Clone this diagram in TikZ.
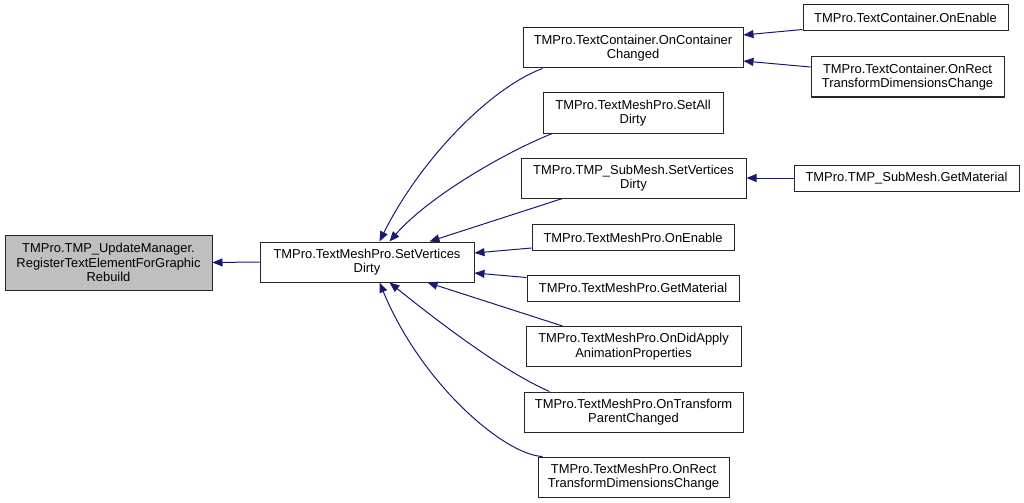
\documentclass[tikz,border=0pt]{standalone}
\usepackage{fontspec}
\setmainfont{Liberation Sans}
\usetikzlibrary{arrows.meta,calc}
\definecolor{edgeblue}{HTML}{191970}
\definecolor{rootgray}{HTML}{BFBFBF}

\begin{document}
\begin{tikzpicture}[x=0.75pt,y=-0.75pt,
      every node/.style={font=\fontsize{9.7}{10.8}\selectfont},
      fn/.style={draw=black!85,line width=0.75pt,fill=white,align=center,inner sep=0pt},
      rootfn/.style={fn,fill=rootgray},
      call/.style={draw=edgeblue,line width=0.75pt,-{Triangle[length=7.5pt,width=6pt]}}]
    \useasboundingbox (0,0) rectangle (1024,503);
    % left part
    \node[rootfn,minimum width=207*0.75pt,minimum height=55*0.75pt] (root) at (108.5,262.5)
      {TMPro.TMP\_UpdateManager.\\RegisterTextElementForGraphic\\Rebuild};
    \node[fn,minimum width=214*0.75pt,minimum height=40*0.75pt] (main) at (367,262)
      {TMPro.TextMeshPro.SetVertices\\Dirty};
    % callers of SetVerticesDirty
    \foreach \n/\x/\y/\w/\h/\t in {
        occ/633/48/220/40/{TMPro.TextContainer.OnContainer\\Changed},
        setall/633/113/180/40/{TMPro.TextMeshPro.SetAll\\Dirty},
        subvd/633.5/178/225/40/{TMPro.TMP\_SubMesh.SetVertices\\Dirty},
        onen/633/237.5/202/26/{TMPro.TextMeshPro.OnEnable},
        getmat/633/288/212/26/{TMPro.TextMeshPro.GetMaterial},
        ondid/633.5/346.5/215/40/{TMPro.TextMeshPro.OnDidApply\\AnimationProperties},
        ontpc/633.5/412/219/40/{TMPro.TextMeshPro.OnTransform\\ParentChanged},
        onrect/633.5/477/191/40/{TMPro.TextMeshPro.OnRect\\TransformDimensionsChange}}
      \node[fn,minimum width=\w*0.75pt,minimum height=\h*0.75pt] (\n) at (\x,\y) {\t};
    % right column
    \foreach \n/\x/\y/\w/\h/\t in {
        tcen/905.5/18/205/26/{TMPro.TextContainer.OnEnable},
        tcrect/907.5/77/193/40/{TMPro.TextContainer.OnRect\\TransformDimensionsChange},
        subgm/906.5/178/225/26/{TMPro.TMP\_SubMesh.GetMaterial}}
      \node[fn,minimum width=\w*0.75pt,minimum height=\h*0.75pt] (\n) at (\x,\y) {\t};

    \draw[call] (main.west) -- (root.east);
    \draw[call] ($(occ.south west)+(20,0)$) .. controls (490,88) and (420,160) .. ($(main.north west)+(120,0)$);
    \draw[call] ($(setall.south west)+(10,0)$) .. controls (510,150) and (430,195) .. ($(main.north west)+(130,0)$);
    \draw[call] ($(subvd.south west)+(42,0)$) -- ($(main.north west)+(170,0)$);
    \draw[call] ($(onen.south west)+(0,-3)$) -- ($(main.east)+(0,-9)$);
    \draw[call] ($(getmat.north west)+(0,3)$) -- ($(main.east)+(0,11)$);
    \draw[call] ($(ondid.north west)+(37,0)$) -- ($(main.south west)+(168,0)$);
    \draw[call] ($(ontpc.north west)+(26,0)$) .. controls (500,370) and (430,315) .. ($(main.south west)+(130,0)$);
    \draw[call] ($(onrect.north west)+(5,0)$) .. controls (505,455) and (422,385) .. ($(main.south west)+(120,0)$);
    \draw[call] ($(tcen.south west)+(0,-2)$) -- ($(occ.east)+(0,-13)$);
    \draw[call] ($(tcrect.west)+(0,-10)$) -- ($(occ.east)+(0,13)$);
    \draw[call] (subgm.west) -- (subvd.east);
\end{tikzpicture}
\end{document}
